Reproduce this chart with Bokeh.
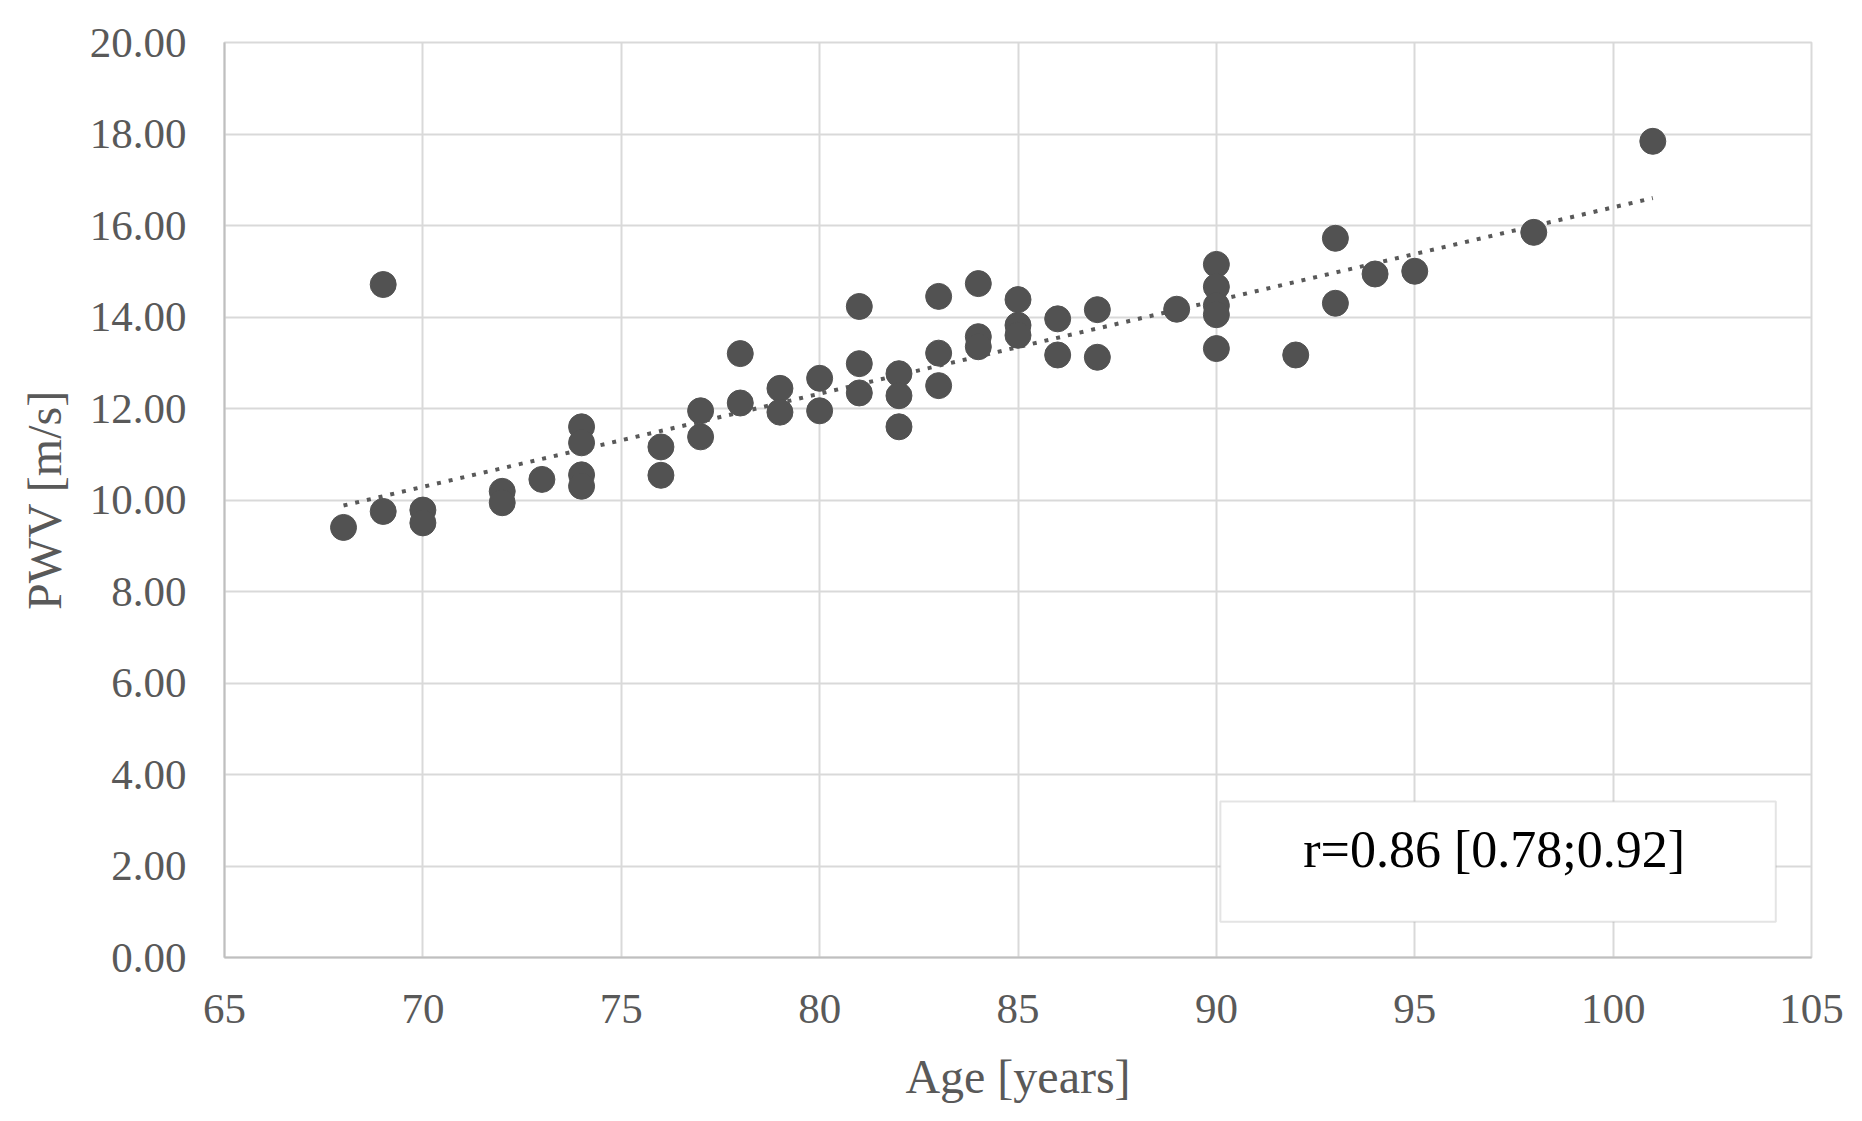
from bokeh.plotting import figure
from bokeh.models import Range1d, FixedTicker, NumeralTickFormatter, BoxAnnotation, Label, ColumnDataSource
from bokeh.embed import file_html
from bokeh.resources import INLINE

# ---- data ----
age = [68, 69, 69, 70, 70, 72, 72, 73, 74, 74, 74, 74, 76, 76, 77, 77, 78, 78,
       79, 79, 80, 80, 81, 81, 81, 82, 82, 82, 83, 83, 83, 84, 84, 84, 85, 85, 85,
       86, 86, 87, 87, 89, 90, 90, 90, 90, 90, 92, 93, 93, 94, 95, 98, 101]
pwv = [9.40, 14.71, 9.75, 9.78, 9.50, 10.19, 9.94, 10.45, 11.60, 11.25, 10.55, 10.30,
       11.16, 10.54, 11.95, 11.38, 13.20, 12.12, 12.44, 11.92, 12.66, 11.95, 14.23, 12.98,
       12.34, 12.76, 12.28, 11.60, 14.45, 13.21, 12.50, 14.73, 13.57, 13.35, 14.38, 13.82,
       13.60, 13.96, 13.17, 14.16, 13.12, 14.17, 15.15, 14.66, 14.25, 14.05, 13.31, 13.17,
       15.72, 14.30, 14.94, 15.00, 15.85, 17.84]
trend_age = [68, 101]
trend_pwv = [9.88, 16.60]
x_ticks = [65, 70, 75, 80, 85, 90, 95, 100, 105]
y_ticks = [0, 2, 4, 6, 8, 10, 12, 14, 16, 18, 20]
annotation_text = "r=0.86 [0.78;0.92]"
x_title = "Age [years]"
y_title = "PWV [m/s]"

FONT = "Liberation Serif"
GRAY = "#595959"

p = figure(width=1846, height=1112, output_backend="svg", toolbar_location=None,
           x_range=Range1d(65, 105), y_range=Range1d(0, 20),
           min_border_left=224, min_border_right=35, min_border_top=42, min_border_bottom=155)
p.background_fill_color = "white"
p.border_fill_color = "white"
p.outline_line_color = "#d9d9d9"
p.outline_line_width = 2

for ax in (p.xaxis[0], p.yaxis[0]):
    ax.major_tick_line_color = None
    ax.minor_tick_line_color = None
    ax.axis_line_color = "#bfbfbf"
    ax.axis_line_width = 2
    ax.major_label_text_font = FONT
    ax.major_label_text_font_size = "43px"
    ax.major_label_text_color = GRAY
    ax.axis_label_text_font = FONT
    ax.axis_label_text_font_size = "48px"
    ax.axis_label_text_font_style = "normal"
    ax.axis_label_text_color = GRAY

p.xaxis.ticker = FixedTicker(ticks=x_ticks)
p.yaxis.ticker = FixedTicker(ticks=y_ticks)
p.yaxis.formatter = NumeralTickFormatter(format="0.00")
p.xaxis.major_label_standoff = 31
p.yaxis.major_label_standoff = 32
p.xaxis.axis_label = x_title
p.yaxis.axis_label = y_title
p.xaxis.axis_label_standoff = 24
p.yaxis.axis_label_standoff = 16

for g in (p.xgrid[0], p.ygrid[0]):
    g.grid_line_color = "#d9d9d9"
    g.grid_line_width = 2
p.xgrid.ticker = FixedTicker(ticks=x_ticks)
p.ygrid.ticker = FixedTicker(ticks=y_ticks)

src = ColumnDataSource(dict(age=age, pwv=pwv))
p.line(trend_age, trend_pwv, line_color=GRAY, line_width=4, line_dash="4 8", line_cap="butt")
p.scatter("age", "pwv", source=src, size=26, fill_color="#525252", line_color="#525252")

box = BoxAnnotation(left=90.1, right=104.1, bottom=0.78, top=3.41,
                    fill_color="white", fill_alpha=1.0,
                    line_color="#a6a6a6", line_width=2, level="overlay")
p.add_layout(box)
lab = Label(x=97.0, y=2.37, text=annotation_text, text_align="center", text_baseline="middle",
            text_font=FONT, text_font_size="52px", text_color="black", level="overlay")
p.add_layout(lab)

open("out.html", "w").write(file_html(p, INLINE))
